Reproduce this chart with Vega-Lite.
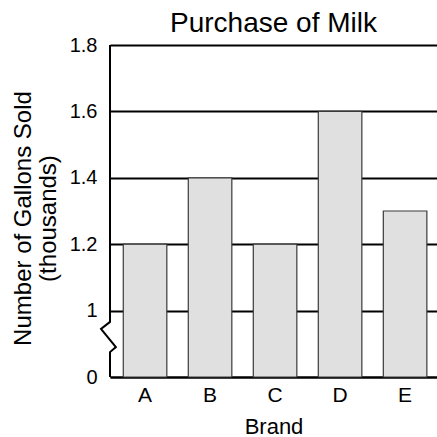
{
  "$schema": "https://vega.github.io/schema/vega-lite/v6.json",
  "autosize": {"type": "none"},
  "padding": {"left": 110, "top": 45, "right": 0, "bottom": 60},
  "width": 327,
  "height": 332,
  "background": "white",
  "title": {"text": "Purchase of Milk", "font": "Liberation Sans", "fontSize": 28, "fontWeight": "normal", "color": "black", "offset": -3, "frame": "group", "anchor": "middle"},
  "config": {"view": {"stroke": null}, "font": "Liberation Sans"},
  "resolve": {"scale": {"x": "independent"}, "axis": {"x": "independent"}},
  "layer": [
    {
      "data": {"values": [
        {"brand": "A", "value": 1.2, "base": 0.8},
        {"brand": "B", "value": 1.4, "base": 0.8},
        {"brand": "C", "value": 1.2, "base": 0.8},
        {"brand": "D", "value": 1.6, "base": 0.8},
        {"brand": "E", "value": 1.3, "base": 0.8}
      ]},
      "mark": {"type": "bar", "fill": "#e0e0e0", "stroke": "#3a3a3a", "strokeWidth": 1.2},
      "encoding": {
        "x": {"field": "brand", "type": "nominal", "sort": null,
          "scale": {"paddingInner": 0.33, "paddingOuter": 0.18, "align": 0.567},
          "axis": {"title": "Brand", "labelAngle": 0, "ticks": false, "domain": true, "domainColor": "black", "domainWidth": 2, "labelFontSize": 21, "labelColor": "black", "labelFont": "Liberation Sans", "labelPadding": 7, "titleFontSize": 22, "titleFontWeight": "normal", "titleColor": "black", "titleFont": "Liberation Sans", "titlePadding": 11, "grid": false}},
        "y": {"field": "value", "type": "quantitative",
          "scale": {"domain": [0.8, 1.8], "nice": false, "zero": false},
          "axis": {"title": ["Number of Gallons Sold", "(thousands)"], "values": [0.8, 1, 1.2, 1.4, 1.6, 1.8], "format": "~g", "labelExpr": "datum.value < 0.9 ? '0' : datum.label", "domain": false, "ticks": false, "grid": true, "gridColor": "black", "gridWidth": 2, "gridOpacity": 1, "labelFontSize": 20, "labelColor": "black", "labelFont": "Liberation Sans", "labelPadding": 13, "titleFontSize": 24, "titleFontWeight": "normal", "titleColor": "black", "titleFont": "Liberation Sans", "titlePadding": 9, "titleLineHeight": 25, "titleY": 173}},
        "y2": {"field": "base"}
      }
    },
    {
      "data": {"values": [
        {"i": 1, "px": 0, "value": 1.8},
        {"i": 2, "px": 0, "value": 0.966},
        {"i": 3, "px": -0.0275, "value": 0.945},
        {"i": 4, "px": 0.018, "value": 0.89},
        {"i": 5, "px": 0, "value": 0.875},
        {"i": 6, "px": 0, "value": 0.8}
      ]},
      "mark": {"type": "line", "color": "black", "strokeWidth": 2, "strokeJoin": "miter"},
      "encoding": {
        "x": {"field": "px", "type": "quantitative", "scale": {"domain": [0, 1], "nice": false, "zero": false}, "axis": null},
        "y": {"field": "value", "type": "quantitative"},
        "order": {"field": "i"}
      }
    }
  ]
}
